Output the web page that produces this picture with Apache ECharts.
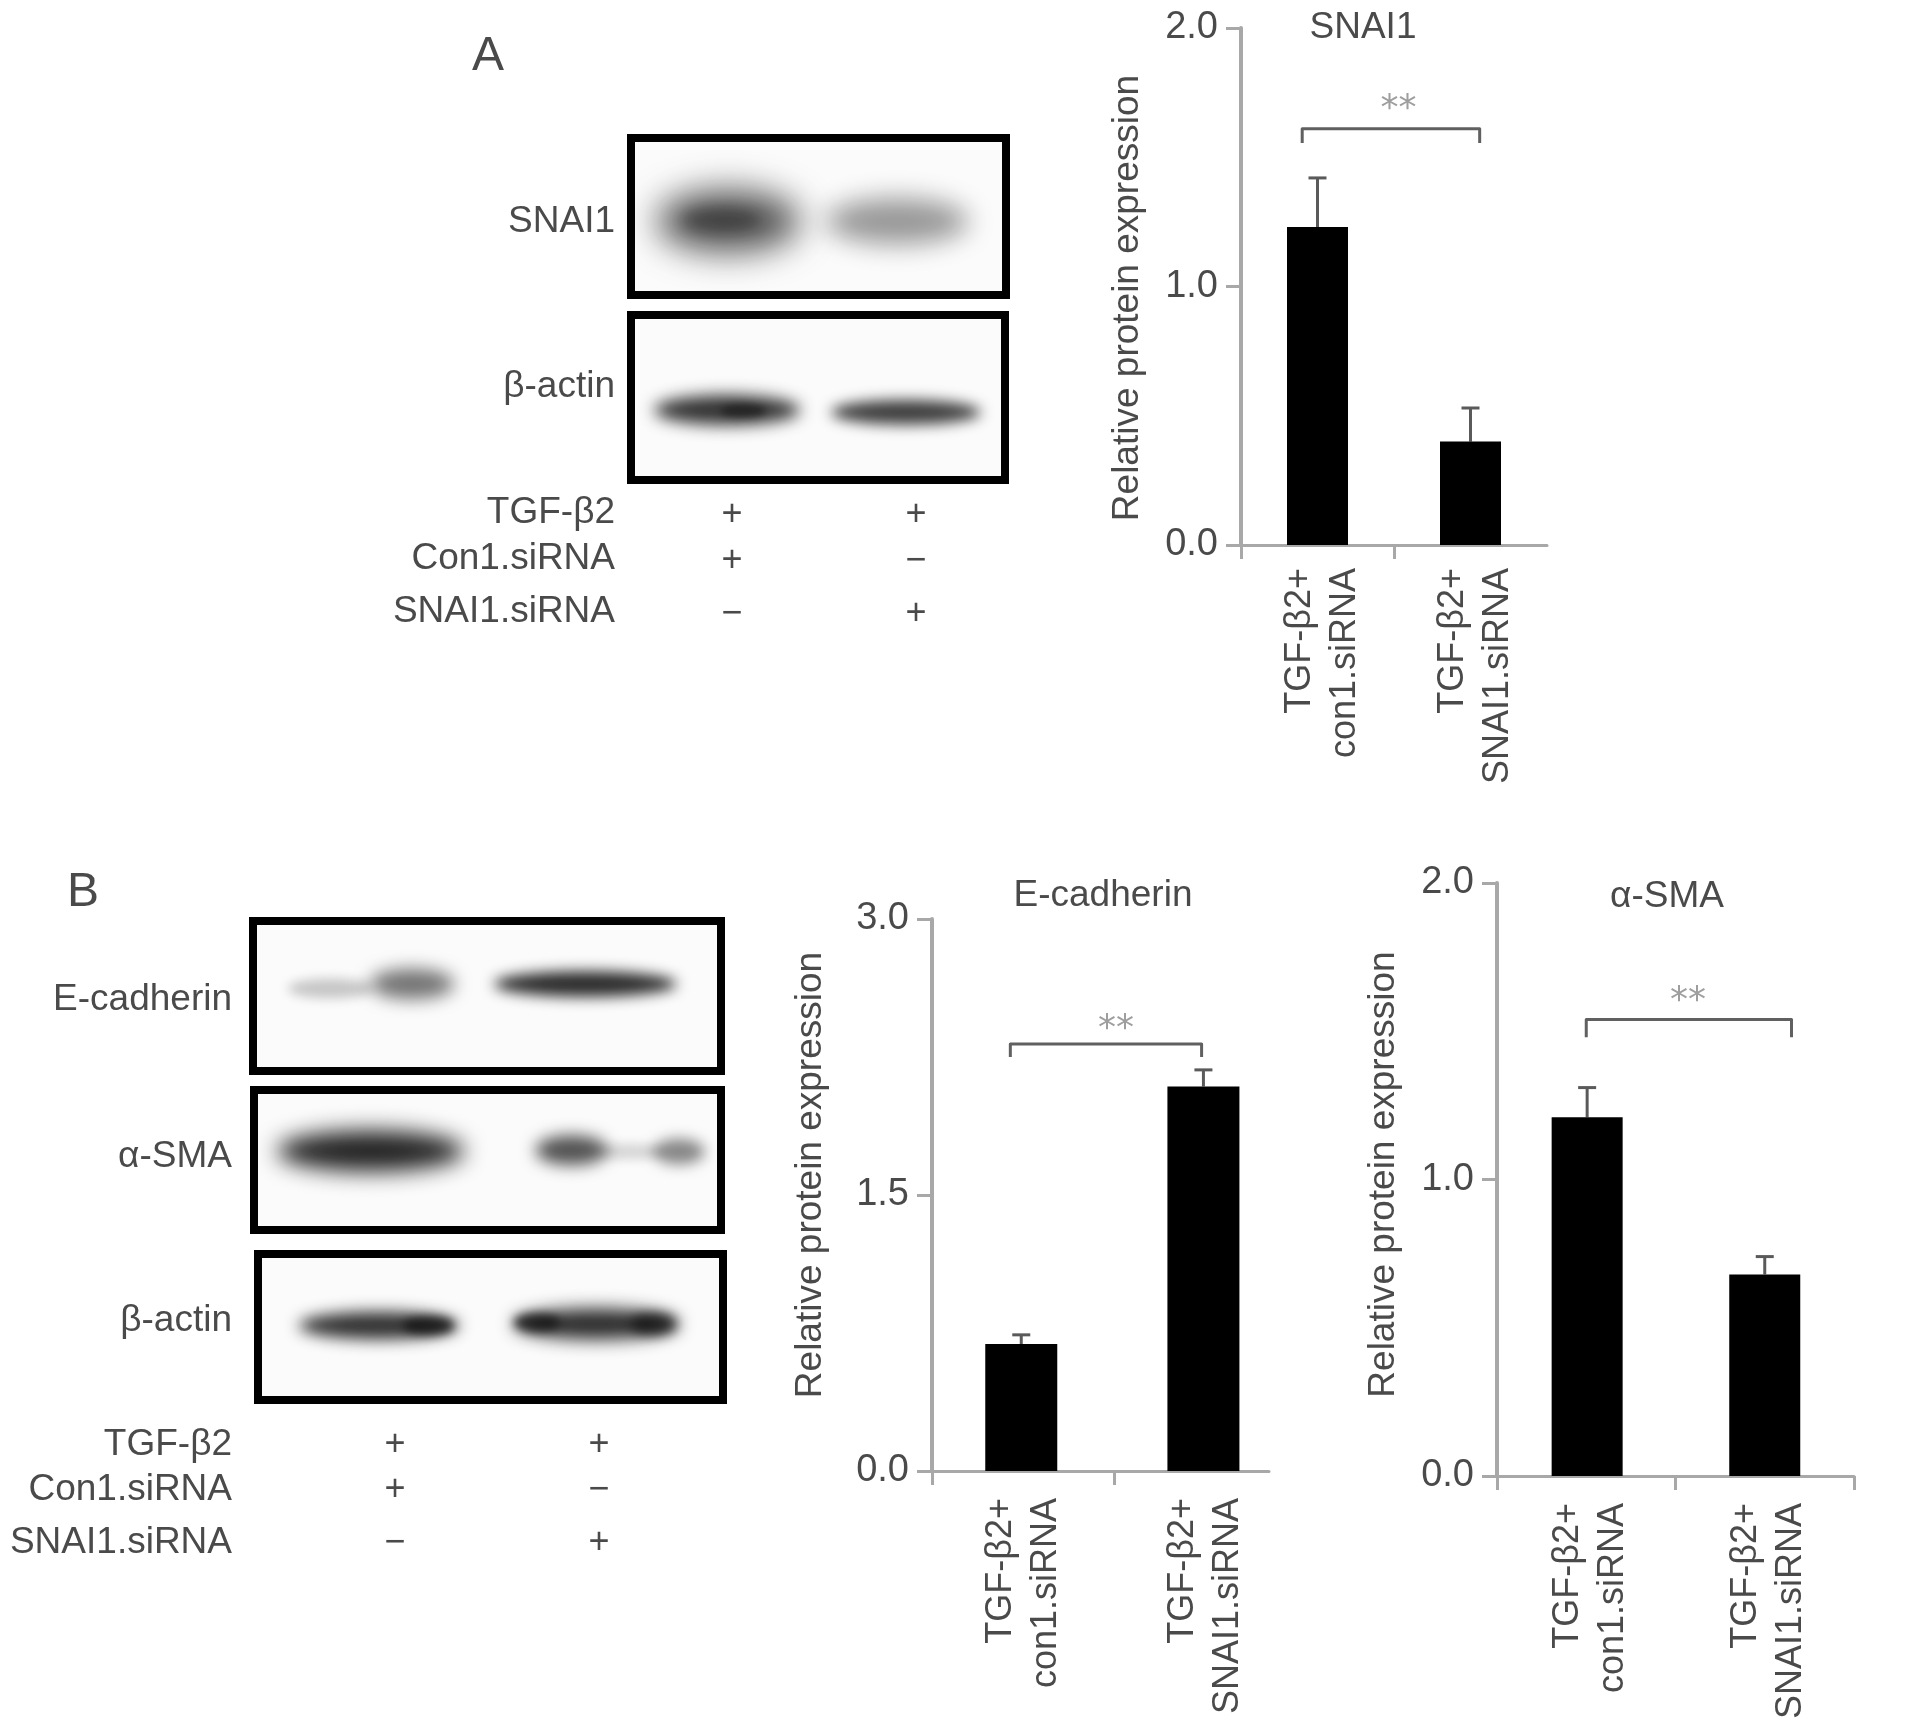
<!DOCTYPE html>
<html>
<head>
<meta charset="utf-8">
<title>SNAI1 knockdown blots and expression</title>
<script src="https://cdn.jsdelivr.net/npm/echarts@6/dist/echarts.min.js"></script>
<style>
  html, body { margin: 0; background: #fff; }
  #chart { width: 1913px; height: 1733px; }
</style>
</head>
<body>
<div id="chart"></div>
<script>
/* Values: bar charts first, then blot bands in 0-100 panel units. */
const yName = "Relative protein expression";
const labelsCon = ["TGF-β2+\ncon1.siRNA", "TGF-β2+\nSNAI1.siRNA"];

const snaiX = [0.5, 1.5];
const snaiMean = [1.23, 0.40];
const snaiTop = [1.42, 0.53];
const snaiBracketX = [0.40, 1.56];
const snaiBracketY = [1.555, 1.61];
const snaiStars = [1.03, 1.685];

const ecadX = [0.49, 1.49];
const ecadMean = [0.69, 2.09];
const ecadTop = [0.74, 2.18];
const ecadBracketX = [0.43, 1.48];
const ecadBracketY = [2.25, 2.32];
const ecadStars = [1.01, 2.40];

const smaX = [0.505, 1.5];
const smaMean = [1.21, 0.68];
const smaTop = [1.31, 0.74];
const smaBracketX = [0.50, 1.65];
const smaBracketY = [1.48, 1.54];
const smaStars = [1.07, 1.60];

// [centre x, centre y, width, height, darkness]
const bandsSnai = [[26, 53, 38, 39, 0.72], [71, 53, 38, 29, 0.42], [24, 52, 20, 15, 0.3]];
const bandsActinA = [[25.7, 57.6, 39, 18, 0.85], [30, 58, 12, 8, 0.5], [73.5, 59, 40, 15, 0.8]];
const bandsEcad = [[16.5, 45, 18, 13, 0.22], [34, 42, 18, 20, 0.58], [71, 42, 39, 17, 0.88]];
const bandsSma = [[25, 43.6, 40, 29, 0.92], [68, 43, 15.4, 21, 0.72], [91, 44, 11, 18, 0.5], [80.5, 44, 14, 12, 0.14]];
const bandsActinB = [[26, 49, 34.4, 19, 0.85], [36.6, 49, 11, 12, 0.75], [72.7, 48, 35.5, 21, 0.88], [60, 47, 10, 12, 0.75], [85, 48, 10, 14, 0.75]];

const rowNames = ["TGF-β2", "Con1.siRNA", "SNAI1.siRNA"];
const colOne = ["+", "+", "−"];
const colTwo = ["+", "−", "+"];

const FONT = '"Liberation Sans", Arimo, Helvetica, Arial, sans-serif';
const TEXT = "#4a4a4a";
const AXIS = "#a8a8a8";

const grids = [], xAxes = [], yAxes = [], series = [], titles = [], graphics = [];

function addBarChart(c) {
  const idx = grids.length;
  const labelX = c.x.map((x) => x + c.labelShift);
  grids.push({ left: c.left, top: c.top, width: c.width, height: c.height, containLabel: false });
  xAxes.push({
    gridIndex: idx, type: "value", min: 0, max: c.xMax, splitLine: { show: false },
    axisLine: { lineStyle: { color: AXIS, width: 3 } },
    axisTick: { length: 14, lineStyle: { color: AXIS, width: 3 }, customValues: c.xTicks },
    axisLabel: {
      customValues: labelX, margin: c.labelMargin, rotate: 90, color: TEXT, fontFamily: FONT, fontSize: 36, lineHeight: 45,
      formatter: (v) => labelsCon[labelX.indexOf(v)],
    },
  });
  yAxes.push({
    gridIndex: idx, type: "value", min: 0, max: c.yMax, interval: c.interval, splitLine: { show: false },
    axisLine: { show: true, lineStyle: { color: AXIS, width: 4 } },
    axisTick: { show: true, length: 15, lineStyle: { color: AXIS, width: 3 } },
    axisLabel: { margin: 23, color: TEXT, fontFamily: FONT, fontSize: 38, formatter: (v) => v.toFixed(1) },
    name: yName, nameLocation: "middle", nameGap: c.nameGap,
    nameTextStyle: { color: TEXT, fontFamily: FONT, fontSize: 37, padding: c.namePad },
  });
  series.push({
    type: "bar", xAxisIndex: idx, yAxisIndex: idx, barWidth: c.barWidth, silent: true,
    itemStyle: { color: "#000" },
    data: c.x.map((x, i) => [x, c.mean[i]]),
  });
  series.push({
    type: "custom", xAxisIndex: idx, yAxisIndex: idx, silent: true, clip: false,
    data: c.x.map((x, i) => [x, c.mean[i], c.errTop[i]]),
    renderItem(params, api) {
      const base = api.coord([api.value(0), api.value(1)]);
      const top = api.coord([api.value(0), api.value(2)]);
      const style = { stroke: "#5a5a5a", lineWidth: 3, fill: null };
      return {
        type: "group",
        children: [
          { type: "line", shape: { x1: base[0], y1: base[1], x2: top[0], y2: top[1] }, style },
          { type: "line", shape: { x1: top[0] - 9, y1: top[1], x2: top[0] + 9, y2: top[1] }, style },
        ],
      };
    },
  });
  series.push({
    type: "line", xAxisIndex: idx, yAxisIndex: idx, symbol: "none", silent: true,
    lineStyle: { color: "#606060", width: 3, join: "round" },
    data: [
      [c.bracketX[0], c.bracketY[0]], [c.bracketX[0], c.bracketY[1]],
      [c.bracketX[1], c.bracketY[1]], [c.bracketX[1], c.bracketY[0]],
    ],
  });
  series.push({
    type: "scatter", xAxisIndex: idx, yAxisIndex: idx, symbolSize: 0, silent: true,
    label: {
      show: true, position: "inside", formatter: "**", color: "#868686",
      fontFamily: '"DejaVu Sans", sans-serif', fontSize: 36,
    },
    data: [c.stars],
  });
  titles.push({
    text: c.title, left: c.titleX, top: c.titleY, padding: 0, textAlign: "center", textVerticalAlign: "middle",
    textStyle: { color: TEXT, fontFamily: FONT, fontSize: 37, fontWeight: "normal" },
  });
}

function addBlot(b) {
  const idx = grids.length;
  grids.push({
    show: true, left: b.left, top: b.top, width: b.width, height: b.height,
    backgroundColor: "#fbfbfb", borderColor: "#000", borderWidth: 8,
  });
  xAxes.push({ gridIndex: idx, type: "value", min: 0, max: 100, show: false });
  yAxes.push({ gridIndex: idx, type: "value", min: 0, max: 100, inverse: true, show: false });
  series.push({
    type: "custom", xAxisIndex: idx, yAxisIndex: idx, silent: true, clip: false,
    data: b.bands,
    renderItem(params, api) {
      const c = api.coord([api.value(0), api.value(1)]);
      const s = api.size([api.value(2), api.value(3)]);
      const blur = s[1] * 0.55;
      // shape sits off the canvas so only its soft shadow shows up
      return {
        type: "ellipse",
        shape: { cx: c[0] - 4000, cy: c[1], rx: Math.max(s[0] / 2, 2), ry: Math.max(s[1] / 2, 2) },
        style: {
          fill: "#000", shadowBlur: blur, shadowOffsetX: 4000, shadowOffsetY: 0,
          shadowColor: "rgba(15,15,15," + api.value(4) + ")",
        },
      };
    },
  });
}

function addText(text, x, y, align, size) {
  graphics.push({
    type: "text", x, y, silent: true,
    style: { text, fill: TEXT, font: (size || 37) + "px " + FONT, textAlign: align || "right", textVerticalAlign: "middle" },
  });
}

function addTreatmentTable(rightEdge, colX, rowY, markOffset) {
  rowNames.forEach((name, i) => {
    addText(name, rightEdge, rowY[i]);
    addText(colOne[i], colX[0], rowY[i] + markOffset, "center", 36);
    addText(colTwo[i], colX[1], rowY[i] + markOffset, "center", 36);
  });
}

addBarChart({
  left: 1241, top: 28, width: 306, height: 517, xMax: 2, xTicks: [0, 1], yMax: 2, interval: 1,
  x: snaiX, mean: snaiMean, errTop: snaiTop, bracketX: snaiBracketX, bracketY: snaiBracketY, stars: snaiStars,
  barWidth: 61, labelMargin: 23, labelShift: 0.03, nameGap: 95, namePad: [0, 23, 0, 0],
  title: "SNAI1", titleX: 1363, titleY: 28,
});
addBarChart({
  left: 932, top: 919, width: 337, height: 552, xMax: 1.85, xTicks: [0, 1], yMax: 3, interval: 1.5,
  x: ecadX, mean: ecadMean, errTop: ecadTop, bracketX: ecadBracketX, bracketY: ecadBracketY, stars: ecadStars,
  barWidth: 72, labelMargin: 27, labelShift: 0.013, nameGap: 103, namePad: [0, 0, 0, 40],
  title: "E-cadherin", titleX: 1103, titleY: 896,
});
addBarChart({
  left: 1497, top: 883, width: 357, height: 593, xMax: 2, xTicks: [0, 1, 2], yMax: 2, interval: 1,
  x: smaX, mean: smaMean, errTop: smaTop, bracketX: smaBracketX, bracketY: smaBracketY, stars: smaStars,
  barWidth: 71, labelMargin: 27, labelShift: 0.02, nameGap: 95, namePad: [0, 0, 0, 10],
  title: "α-SMA", titleX: 1667, titleY: 897,
});

addBlot({ left: 631, top: 138, width: 375, height: 157, bands: bandsSnai });
addBlot({ left: 631, top: 315, width: 374, height: 165, bands: bandsActinA });
addBlot({ left: 253, top: 921, width: 468, height: 150, bands: bandsEcad });
addBlot({ left: 254, top: 1090, width: 467, height: 140, bands: bandsSma });
addBlot({ left: 258, top: 1254, width: 465, height: 146, bands: bandsActinB });

addText("A", 488, 57, "center", 48);
addText("B", 83, 893, "center", 48);
addText("SNAI1", 615, 222);
addText("β-actin", 615, 387);
addTreatmentTable(615, [732, 916], [513, 559, 612], 2);
addText("E-cadherin", 232, 1000);
addText("α-SMA", 232, 1157);
addText("β-actin", 232, 1321);
addTreatmentTable(232, [395, 599], [1445, 1490, 1543], 0);

const chart = echarts.init(document.getElementById("chart"));
chart.setOption({
  animation: false,
  backgroundColor: "#fff",
  title: titles,
  grid: grids,
  xAxis: xAxes,
  yAxis: yAxes,
  series,
  graphic: graphics,
});
</script>
</body>
</html>
